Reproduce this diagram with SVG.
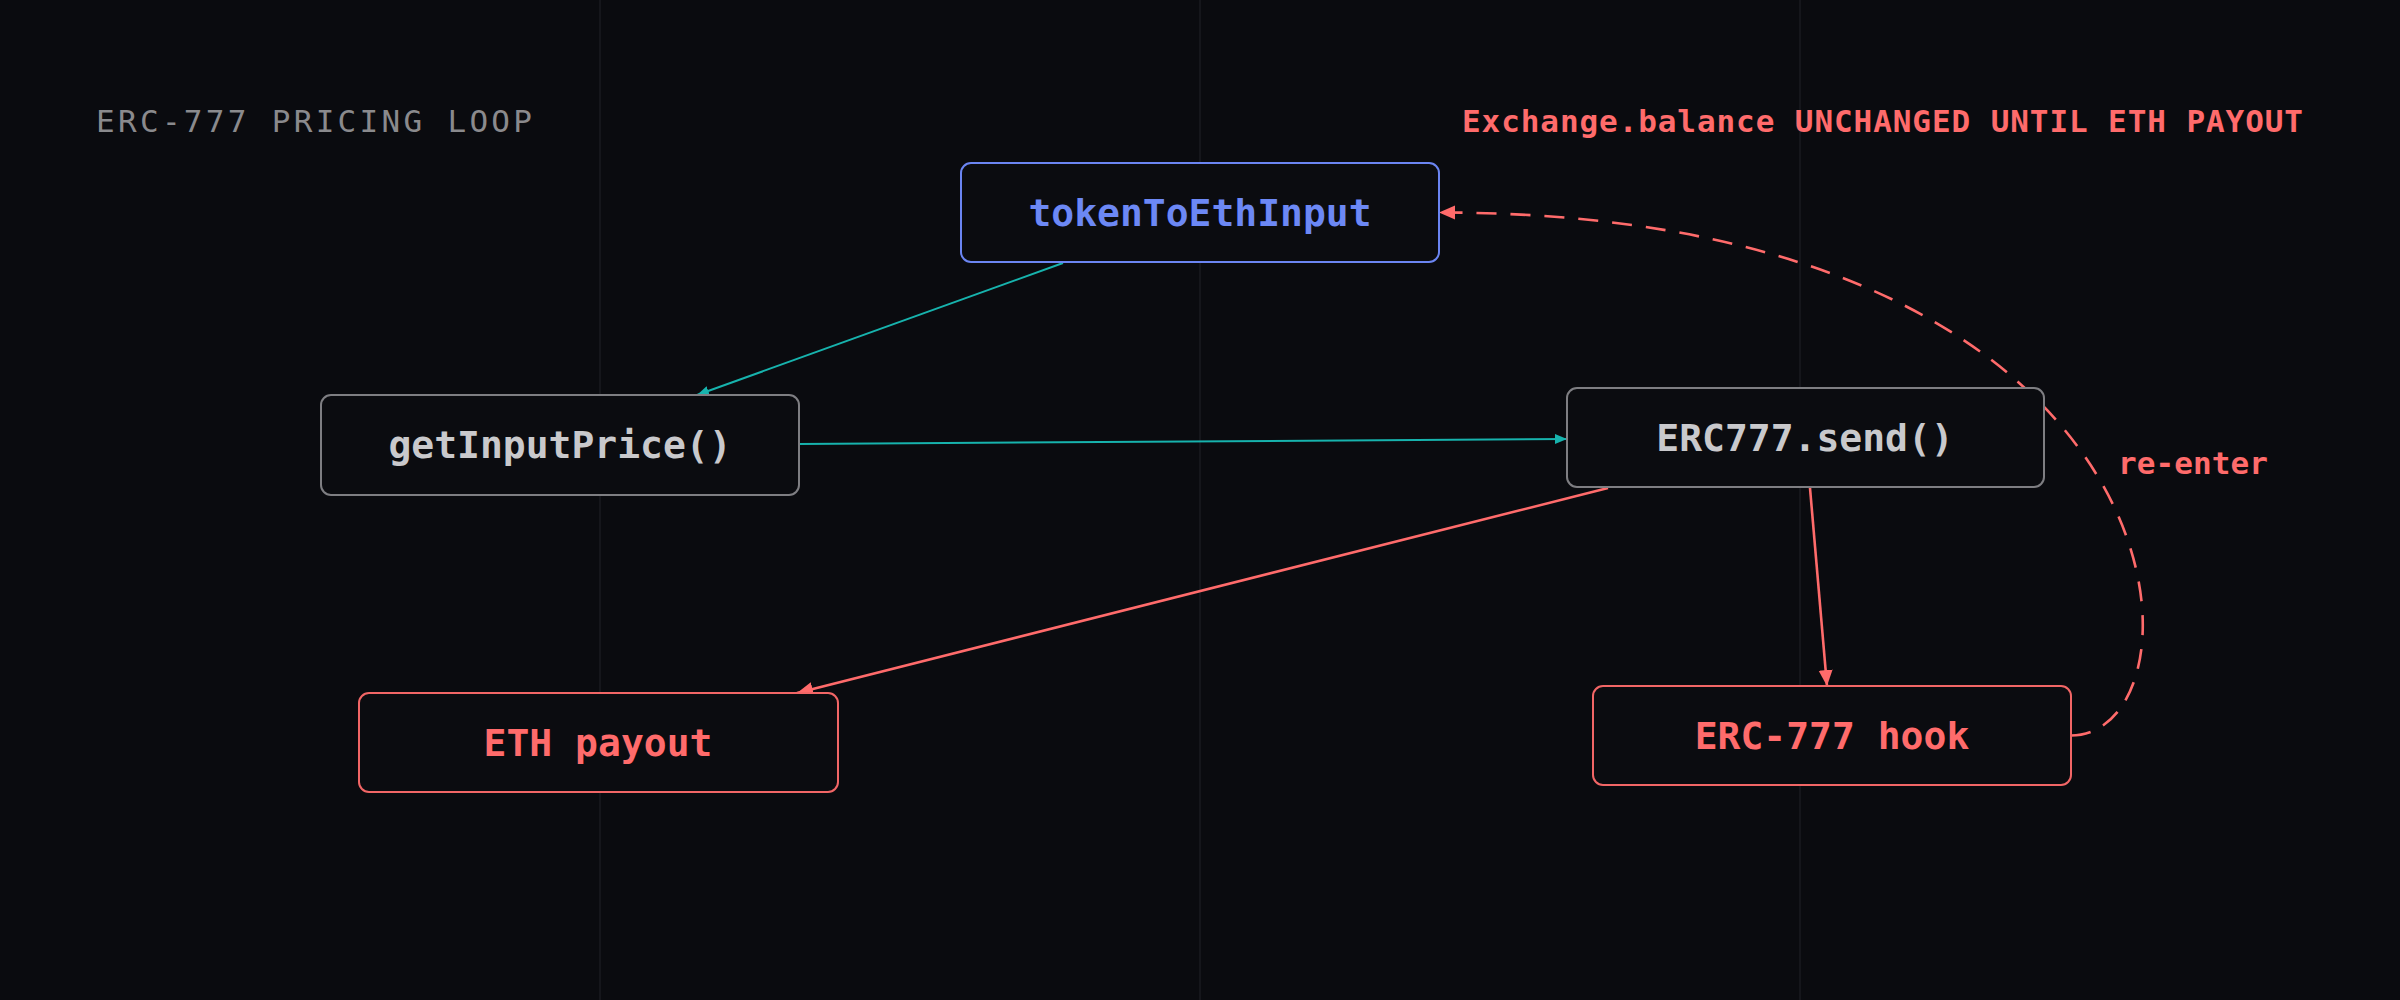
<svg xmlns="http://www.w3.org/2000/svg" width="2400" height="1000" viewBox="0 0 2400 1000">
<defs>
<style>
.bg{fill:#0a0b0f}
.grid{stroke:#15161b;stroke-width:2}
.node rect{fill:#0b0c10;stroke-width:2}
.n-gray rect{stroke:#7e7e82}
.n-blue rect{stroke:#6b85f2}
.n-red rect{stroke:#f26666}
.lbl{font-family:"DejaVu Sans Mono","Liberation Mono",monospace;font-weight:bold;font-size:38px;text-anchor:middle}
.n-gray .lbl{fill:#c9c9cc}
.n-blue .lbl{fill:#6c88f5}
.n-red .lbl{fill:#ff6b6b}
.teal{fill:none;stroke:#17b3ad;stroke-width:2}
.red{fill:none;stroke:#ff6b6b;stroke-width:2.6}
.dash{stroke-dasharray:20 14}
.title{font-family:"DejaVu Sans Mono","Liberation Mono",monospace;font-size:31px;fill:#8a8a8d}
.note{font-family:"DejaVu Sans Mono","Liberation Mono",monospace;font-weight:bold;font-size:31px;fill:#ff6b6b}
</style>
<marker id="aTeal" markerUnits="userSpaceOnUse" markerWidth="14" markerHeight="12" refX="12" refY="5" orient="auto">
<path d="M0,0 L12,5 L0,10 Z" fill="#17b3ad"/>
</marker>
<marker id="aRed" markerUnits="userSpaceOnUse" markerWidth="18" markerHeight="16" refX="16" refY="7" orient="auto">
<path d="M0,0 L16,7 L0,14 Z" fill="#ff6b6b"/>
</marker>
</defs>
<rect class="bg" x="0" y="0" width="2400" height="1000"/>
<g id="grid">
<line class="grid" x1="600" y1="0" x2="600" y2="1000"/>
<line class="grid" x1="1200" y1="0" x2="1200" y2="1000"/>
<line class="grid" x1="1800" y1="0" x2="1800" y2="1000"/>
</g>
<text class="title" x="96" y="132" textLength="436" lengthAdjust="spacing">ERC-777 PRICING LOOP</text>
<text class="note" x="1462" y="132" textLength="841" lengthAdjust="spacing">Exchange.balance UNCHANGED UNTIL ETH PAYOUT</text>
<g id="connectors">
<path class="teal" d="M1063,263 L697,395" marker-end="url(#aTeal)"/>
<path class="teal" d="M799,444 L1567,439" marker-end="url(#aTeal)"/>
<path class="red" d="M1608,488 L797,693" marker-end="url(#aRed)"/>
<path class="red" d="M1810,488 L1827,686" marker-end="url(#aRed)"/>
<path class="red dash" d="M2071,735.5 C2215,735.5 2205,212.5 1439,212.5" marker-end="url(#aRed)"/>
<text class="note" x="2118" y="474" textLength="150" lengthAdjust="spacing">re-enter</text>
</g>
<g id="tokenToEthInput" class="node n-blue">
<rect x="961" y="163" width="478" height="99" rx="10"/>
<text class="lbl" x="1200" y="226">tokenToEthInput</text>
</g>
<g id="getInputPrice" class="node n-gray">
<rect x="321" y="395" width="478" height="100" rx="10"/>
<text class="lbl" x="560" y="458">getInputPrice()</text>
</g>
<g id="erc777send" class="node n-gray">
<rect x="1567" y="388" width="477" height="99" rx="10"/>
<text class="lbl" x="1805" y="451">ERC777.send()</text>
</g>
<g id="ethPayout" class="node n-red">
<rect x="359" y="693" width="479" height="99" rx="10"/>
<text class="lbl" x="598" y="756">ETH payout</text>
</g>
<g id="erc777hook" class="node n-red">
<rect x="1593" y="686" width="478" height="99" rx="10"/>
<text class="lbl" x="1832" y="749">ERC-777 hook</text>
</g>
</svg>
